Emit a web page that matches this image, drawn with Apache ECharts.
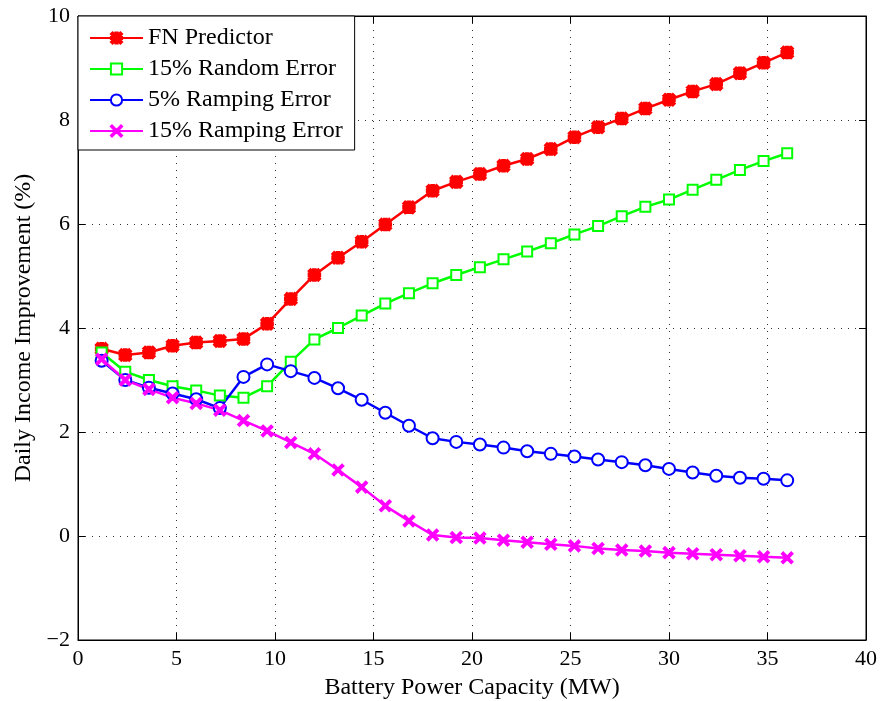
<!DOCTYPE html>
<html>
<head>
<meta charset="utf-8">
<script src="https://cdn.jsdelivr.net/npm/echarts@6/dist/echarts.min.js"></script>
<style>
    html, body { margin: 0; padding: 0; background: #fff; }
    #chart { width: 884px; height: 701px; }
</style>
</head>
<body>
<div id="chart"></div>
<script>
    // battery power capacity (MW)
    const capacity = [1.2, 2.4, 3.6, 4.8, 6, 7.2, 8.4, 9.6, 10.8, 12, 13.2, 14.4, 15.6, 16.8, 18,
        19.2, 20.4, 21.6, 22.8, 24, 25.2, 26.4, 27.6, 28.8, 30, 31.2, 32.4, 33.6, 34.8, 36]

    const fnPredictor = [3.6, 3.48, 3.53, 3.66, 3.72, 3.75, 3.79, 4.08, 4.56, 5.02, 5.35, 5.66, 5.99, 6.32, 6.64,
        6.81, 6.96, 7.12, 7.25, 7.44, 7.67, 7.86, 8.03, 8.22, 8.39, 8.55, 8.69, 8.9, 9.1, 9.3]
    const random15 = [3.53, 3.16, 3.0, 2.88, 2.8, 2.7, 2.66, 2.88, 3.35, 3.78, 4.0, 4.24, 4.47, 4.67, 4.86,
        5.02, 5.17, 5.32, 5.47, 5.63, 5.8, 5.96, 6.15, 6.33, 6.47, 6.66, 6.85, 7.04, 7.21, 7.36]
    const ramping5 = [3.37, 3.0, 2.85, 2.74, 2.63, 2.46, 3.06, 3.3, 3.17, 3.04, 2.84, 2.62, 2.37, 2.12, 1.88,
        1.81, 1.76, 1.7, 1.63, 1.58, 1.53, 1.47, 1.42, 1.36, 1.29, 1.22, 1.16, 1.12, 1.1, 1.07]
    const ramping15 = [3.4, 3.0, 2.82, 2.66, 2.55, 2.42, 2.22, 2.02, 1.8, 1.58, 1.27, 0.94, 0.58, 0.29, 0.02,
        -0.03, -0.04, -0.08, -0.12, -0.16, -0.19, -0.24, -0.27, -0.29, -0.32, -0.34, -0.36, -0.38, -0.4, -0.42]

    const seriesNames = ['FN Predictor', '15% Random Error', '5% Ramping Error', '15% Ramping Error']

    const font = 'Liberation Serif'
    const xMark = 'path://M0,2 L2,0 L10,8 L18,0 L20,2 L12,10 L20,18 L18,20 L10,12 L2,20 L0,18 L8,10 Z'
    const starMark = 'path://M8,0 L12,0 L12,8 L20,8 L20,12 L12,12 L12,20 L8,20 L8,12 L0,12 L0,8 L8,8 Z ' +
        'M0,3 L3,0 L10,7 L17,0 L20,3 L13,10 L20,17 L17,20 L10,13 L3,20 L0,17 L7,10 Z'

    const pair = (ys) => capacity.map((x, i) => [x, ys[i]])

    const chart = echarts.init(document.getElementById('chart'))

    const minus = (v) => String(v).replace('-', '\u2212')

    const lineSeries = (name, data, color, symbol, size) => ({
        name: name,
        type: 'line',
        data: pair(data),
        symbol: symbol,
        symbolSize: size,
        showAllSymbol: true,
        lineStyle: { color: color, width: 2.5 },
        itemStyle: { color: color, borderColor: color, borderWidth: 2.5 },
        emphasis: { disabled: true },
        z: 3
    })

    const dotted = { show: true, lineStyle: { color: '#333', type: [1, 6], width: 1 } }

    chart.setOption({
        animation: false,
        textStyle: { fontFamily: font },
        grid: {
            left: 78, right: 18, top: 16, bottom: 61,
            outerBoundsMode: 'none',
            containLabel: false,
            show: true, borderColor: '#000', borderWidth: 1, backgroundColor: '#fff'
        },
        legend: {
            orient: 'vertical',
            left: 78,
            top: 16,
            padding: [10, 12, 7, 11],
            itemWidth: 53,
            itemHeight: 14,
            itemGap: 7,
            itemTextGap: 6,
            backgroundColor: '#fff',
            borderColor: '#000',
            borderWidth: 1,
            textStyle: { fontFamily: font, fontSize: 24, color: '#000' },
            data: seriesNames
        },
        xAxis: [
            {
                type: 'value', min: 0, max: 40, interval: 5,
                name: 'Battery Power Capacity (MW)',
                nameLocation: 'middle', nameGap: 36,
                nameTextStyle: { fontFamily: font, fontSize: 24, color: '#000' },
                axisLine: { show: true, onZero: false, lineStyle: { color: '#000', width: 1 } },
                axisTick: { inside: true, length: 7, lineStyle: { color: '#000' } },
                axisLabel: { fontFamily: font, fontSize: 22, color: '#000', margin: 8 },
                splitLine: dotted
            },
            {
                type: 'value', min: 0, max: 40, interval: 5, position: 'top',
                axisLine: { show: true, onZero: false, lineStyle: { color: '#000' } },
                axisTick: { inside: true, length: 7, lineStyle: { color: '#000' } },
                axisLabel: { show: false },
                splitLine: { show: false }
            }
        ],
        yAxis: [
            {
                type: 'value', min: -2, max: 10, interval: 2,
                name: 'Daily Income Improvement (%)',
                nameLocation: 'middle', nameGap: 42,
                nameTextStyle: { fontFamily: font, fontSize: 24, color: '#000' },
                axisLine: { show: true, onZero: false, lineStyle: { color: '#000', width: 1 } },
                axisTick: { inside: true, length: 7, lineStyle: { color: '#000' } },
                axisLabel: { fontFamily: font, fontSize: 22, color: '#000', margin: 8, formatter: minus },
                splitLine: dotted
            },
            {
                type: 'value', min: -2, max: 10, interval: 2, position: 'right',
                axisLine: { show: true, onZero: false, lineStyle: { color: '#000' } },
                axisTick: { inside: true, length: 7, lineStyle: { color: '#000' } },
                axisLabel: { show: false },
                splitLine: { show: false }
            }
        ],
        series: [
            lineSeries(seriesNames[0], fnPredictor, '#ff0000', starMark, 11),
            lineSeries(seriesNames[1], random15, '#00ff00', 'emptyRect', 10),
            lineSeries(seriesNames[2], ramping5, '#0000ff', 'emptyCircle', 12),
            lineSeries(seriesNames[3], ramping15, '#ff00ff', xMark, 10)
        ]
    })
</script>
</body>
</html>
